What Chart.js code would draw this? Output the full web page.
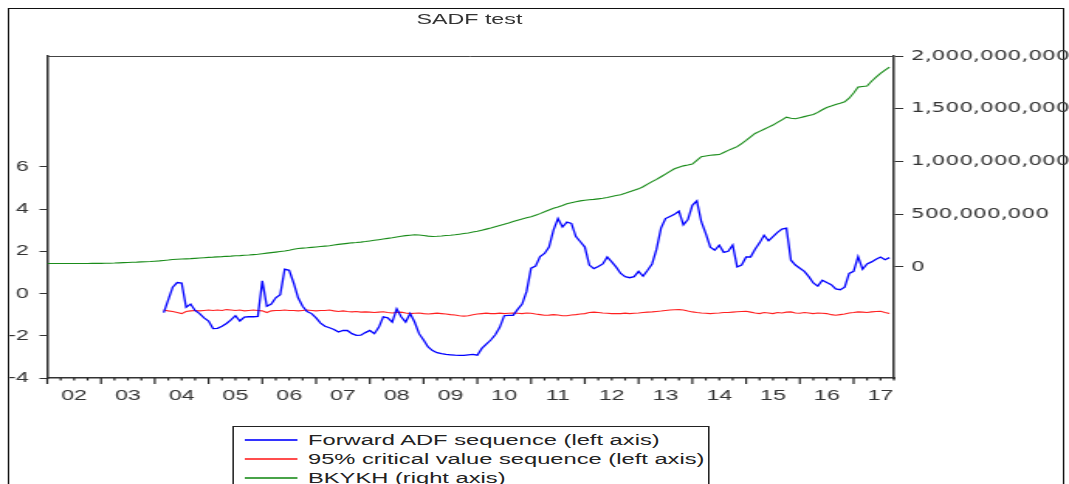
<!DOCTYPE html>
<html>
<head>
<meta charset="utf-8">
<title>SADF test</title>
<script src="https://cdn.jsdelivr.net/npm/chart.js@4.4.1/dist/chart.umd.min.js"></script>
<style>
    html, body {
        margin: 0;
        padding: 0;
        width: 1069px;
        height: 484px;
        overflow: hidden;
        background: #fff;
    }
    /* the original picture is stretched sideways, so the whole chart is too */
    #stage {
        position: absolute;
        left: 0;
        top: 0;
        width: 690px;
        height: 484px;
        transform: scaleX(1.549275);
        transform-origin: 0 0;
        font-family: "Liberation Sans", Arial, sans-serif;
    }
    #chart {
        position: absolute;
        left: 0;
        top: 0;
    }
    .frame {
        position: absolute;
        left: 5px;
        top: 7.5px;
        width: 679.5px;
        height: 500px;
        border: 1.3px solid #111;
    }
    .chart-title {
        position: absolute;
        left: 203px;
        width: 200px;
        top: 10px;
        text-align: center;
        font-size: 15px;
        line-height: 18px;
        color: #333;
    }
    .legend-box {
        position: absolute;
        left: 150.3px;
        top: 426px;
        width: 306px;
        height: 80px;
        border: 1.3px solid #222;
        padding-top: 3px;
        font-size: 15.3px;
        color: #222;
        background: #fff;
    }
    .legend-row {
        position: relative;
        height: 19.2px;
        line-height: 19.2px;
        white-space: nowrap;
    }
    .legend-line {
        position: absolute;
        left: 7px;
        top: 9px;
        width: 34px;
        height: 1.5px;
        opacity: 0.8;
    }
    .legend-text {
        position: absolute;
        left: 47.5px;
        top: 0;
    }
</style>
</head>
<body>
<div id="stage">
    <div class="frame"></div>
    <div class="chart-title">SADF test</div>
    <canvas id="chart" width="690" height="484"></canvas>
    <div class="legend-box" id="legend"></div>
</div>

<script>
// Monthly data, 2002M01 - 2017M09
const startYear = 2002;
const adfStart = 26; // first month of the ADF sequences (2004M03)

const yearLabels = ['02', '03', '04', '05', '06', '07', '08', '09', '10', '11', '12', '13', '14', '15', '16', '17'];
const leftTicks = [-4, -2, 0, 2, 4, 6];
const rightTicks = [0, 500, 1000, 1500, 2000]; // millions

// Forward ADF sequence (left axis)
const adfSeq = [
    -0.9, -0.3, 0.3, 0.52, 0.5, -0.65, -0.5, -0.8, -0.95, -1.15,
    -1.3, -1.66, -1.65, -1.55, -1.42, -1.25, -1.05, -1.3, -1.12, -1.1, -1.1, -1.08,
    0.6, -0.6, -0.5, -0.2, -0.05, 1.15, 1.1, 0.5, -0.2, -0.6, -0.85, -0.95,
    -1.15, -1.4, -1.55, -1.62, -1.7, -1.82, -1.75, -1.75, -1.9, -1.98, -1.97, -1.85,
    -1.75, -1.9, -1.6, -1.1, -1.15, -1.35, -0.72, -1.1, -1.35, -0.95, -1.35, -1.9,
    -2.2, -2.53, -2.7, -2.8, -2.85, -2.88, -2.9, -2.92, -2.93, -2.93, -2.9, -2.88,
    -2.92, -2.6, -2.4, -2.2, -1.95, -1.6, -1.05, -1.03, -1.03, -0.75, -0.5, 0.1,
    1.2, 1.3, 1.75, 1.9, 2.2, 3.0, 3.55, 3.15, 3.38, 3.32, 2.7, 2.45,
    2.2, 1.35, 1.18, 1.28, 1.4, 1.73, 1.5, 1.25, 0.95, 0.8, 0.75, 0.8,
    1.05, 0.82, 1.1, 1.4, 2.1, 3.1, 3.55, 3.65, 3.75, 3.9, 3.25, 3.5,
    4.18, 4.39, 3.4, 2.84, 2.2, 2.05, 2.29, 1.95, 2.0, 2.3, 1.26, 1.35,
    1.73, 1.73, 2.1, 2.4, 2.76, 2.5, 2.7, 2.9, 3.05, 3.1, 1.58, 1.35,
    1.2, 1.05, 0.8, 0.5, 0.35, 0.63, 0.52, 0.42, 0.22, 0.18, 0.3, 0.95,
    1.05, 1.75, 1.15, 1.4, 1.5, 1.62, 1.73, 1.6, 1.7
];

// 95% critical value sequence (left axis)
const critSeq = [
    -0.78, -0.82, -0.85, -0.9, -0.95, -0.85, -0.82, -0.8, -0.82, -0.8,
    -0.78, -0.8, -0.78, -0.8, -0.76, -0.78, -0.8, -0.78, -0.82, -0.8, -0.78, -0.8,
    -0.82, -0.9, -0.82, -0.8, -0.8, -0.78, -0.8, -0.8, -0.82, -0.8, -0.78, -0.8,
    -0.82, -0.8, -0.8, -0.78, -0.82, -0.85, -0.82, -0.85, -0.87, -0.85, -0.88, -0.87,
    -0.88, -0.9, -0.88, -0.86, -0.9, -0.92, -0.9, -0.88, -0.92, -0.95, -0.93, -0.92,
    -0.95, -0.97, -0.95, -0.93, -0.95, -0.97, -1.0, -1.02, -1.05, -1.07, -1.05, -1.0,
    -0.97, -0.95, -0.93, -0.95, -0.95, -0.93, -0.95, -0.93, -0.92, -0.93, -0.95, -0.92,
    -0.93, -0.97, -1.0, -1.03, -1.02, -1.0, -1.02, -1.05, -1.05, -1.02, -1.0, -0.97,
    -0.95, -0.9, -0.88, -0.9, -0.92, -0.93, -0.95, -0.95, -0.95, -0.93, -0.95, -0.93,
    -0.92, -0.9, -0.88, -0.87, -0.85, -0.83, -0.8, -0.78, -0.77, -0.76, -0.78, -0.83,
    -0.87, -0.9, -0.92, -0.93, -0.95, -0.93, -0.92, -0.9, -0.9, -0.88, -0.86, -0.85,
    -0.84, -0.88, -0.92, -0.95, -0.9, -0.92, -0.95, -0.9, -0.92, -0.88, -0.87, -0.92,
    -0.93, -0.9, -0.92, -0.95, -0.92, -0.93, -0.95, -1.0, -1.03, -1.0, -0.97, -0.92,
    -0.9, -0.87, -0.88, -0.9, -0.87, -0.85, -0.84, -0.9, -0.95
];

// BKYKH (right axis), millions
const bkykh = [
    32, 32, 32, 32, 32, 32, 32, 32, 32, 32, 33, 33,
    33, 34, 35, 36, 38, 40, 42, 44, 45, 47, 49, 51,
    54, 57, 61, 65, 70, 72, 74, 76, 78, 81, 84, 87,
    90, 92, 95, 97, 100, 102, 105, 107, 110, 112, 116, 120,
    125, 130, 135, 140, 145, 150, 158, 167, 175, 178, 181, 185,
    189, 193, 197, 201, 208, 213, 218, 223, 228, 231, 235, 240,
    246, 252, 258, 264, 270, 276, 283, 290, 296, 300, 304, 303,
    298, 292, 288, 290, 293, 297, 300, 304, 310, 316, 322, 330,
    338, 348, 358, 368, 380, 392, 404, 416, 430, 442, 454, 465,
    475, 490, 505, 522, 540, 555, 568, 582, 598, 608, 618, 626,
    632, 636, 640, 645, 650, 658, 667, 676, 685, 698, 712, 726,
    740, 760, 785, 808, 830, 855, 880, 905, 930, 945, 958, 966,
    975, 1010, 1045, 1052, 1058, 1062, 1065, 1085, 1105, 1122, 1140, 1170,
    1200, 1232, 1265, 1285, 1305, 1325, 1345, 1370, 1395, 1420, 1410, 1405,
    1415, 1425, 1435, 1445, 1465, 1490, 1512, 1525, 1540, 1552, 1565, 1600,
    1650, 1705, 1710, 1715, 1760, 1800, 1835, 1865, 1895
];

// month index -> decimal year
function toPoints(values, offset) {
    return values.map((v, i) => ({ x: startYear + (i + offset) / 12, y: v }));
}

Chart.defaults.font.family = '"Liberation Sans", Arial, sans-serif';
Chart.defaults.color = '#333';

const textColor = '#333';
const axisColor = '#333';

// Plot frame top line plus the quarterly / yearly tick marks under the x axis
const framePlugin = {
    id: 'frameTicks',
    afterDraw(chart) {
        const ctx = chart.ctx;
        const area = chart.chartArea;
        const xScale = chart.scales.x;
        ctx.save();
        ctx.strokeStyle = '#444';
        ctx.lineWidth = 1;
        ctx.beginPath();
        ctx.moveTo(area.left, area.top + 0.5);
        ctx.lineTo(area.right, area.top + 0.5);
        ctx.stroke();

        ctx.strokeStyle = '#222';
        ctx.lineWidth = 1.2;
        for (let q = 0; q <= (xScale.max - xScale.min) * 4; q++) {
            const val = xScale.min + q / 4;
            const px = xScale.getPixelForValue(val);
            const len = q % 4 === 0 ? 6 : 2.5;
            ctx.beginPath();
            ctx.moveTo(px, area.bottom);
            ctx.lineTo(px, area.bottom + len);
            ctx.stroke();
        }
        ctx.restore();
    }
};

const ctx = document.getElementById('chart');

const chart = new Chart(ctx, {
    type: 'line',
    data: {
        datasets: [
            {
                label: 'Forward ADF sequence (left axis)',
                data: toPoints(adfSeq, adfStart),
                yAxisID: 'y',
                borderColor: '#0000ff',
                borderWidth: 1.3,
                pointRadius: 0,
                tension: 0
            },
            {
                label: '95% critical value sequence (left axis)',
                data: toPoints(critSeq, adfStart),
                yAxisID: 'y',
                borderColor: '#ff2020',
                borderWidth: 1.1,
                pointRadius: 0,
                tension: 0
            },
            {
                label: 'BKYKH (right axis)',
                data: toPoints(bkykh, 0),
                yAxisID: 'y1',
                borderColor: '#1a8c1a',
                borderWidth: 1.1,
                pointRadius: 0,
                tension: 0
            }
        ]
    },
    options: {
        responsive: false,
        devicePixelRatio: 1,
        animation: false,
        layout: {
            padding: { left: 0, right: 0, top: 56, bottom: 0 }
        },
        plugins: {
            legend: { display: false },
            tooltip: { enabled: false },
            title: { display: false }
        },
        scales: {
            x: {
                type: 'linear',
                min: 2002,
                max: 2017.75,
                afterBuildTicks: scale => {
                    scale.ticks = yearLabels.map((lab, k) => ({ value: startYear + k + 0.5 }));
                },
                afterFit: scale => { scale.height = 106; },
                ticks: {
                    autoSkip: false,
                    maxRotation: 0,
                    padding: 3,
                    color: textColor,
                    font: { size: 15 },
                    callback: (v, i) => yearLabels[i]
                },
                grid: {
                    drawOnChartArea: false,
                    drawTicks: true,
                    tickLength: 6,
                    color: 'rgba(0,0,0,0)'
                },
                border: { color: axisColor, width: 1.5 }
            },
            y: {
                position: 'left',
                min: -4,
                max: 11.25,
                afterBuildTicks: scale => {
                    scale.ticks = leftTicks.map(v => ({ value: v }));
                },
                afterFit: scale => { scale.width = 30.5; },
                ticks: {
                    padding: 7,
                    color: textColor,
                    font: { size: 15 },
                    callback: v => String(v)
                },
                grid: {
                    drawOnChartArea: false,
                    tickLength: 5,
                    color: axisColor
                },
                border: { color: axisColor, width: 1.5 }
            },
            y1: {
                position: 'right',
                min: -1054,
                max: 2000,
                afterBuildTicks: scale => {
                    scale.ticks = rightTicks.map(v => ({ value: v }));
                },
                afterFit: scale => { scale.width = 113; },
                ticks: {
                    padding: 5,
                    color: textColor,
                    font: { family: '"DejaVu Sans", sans-serif', size: 14 },
                    callback: v => (v * 1000000).toLocaleString('en-US')
                },
                grid: {
                    drawOnChartArea: false,
                    tickLength: 6,
                    color: axisColor
                },
                border: { color: axisColor, width: 1.5 }
            }
        }
    },
    plugins: [framePlugin]
});

// Legend box under the plot, built from the datasets
const legend = document.getElementById('legend');
chart.data.datasets.forEach(ds => {
    const row = document.createElement('div');
    row.className = 'legend-row';
    row.innerHTML = `<span class="legend-line" style="background-color:${ds.borderColor}"></span>` +
        `<span class="legend-text">${ds.label}</span>`;
    legend.appendChild(row);
});
</script>
</body>
</html>
